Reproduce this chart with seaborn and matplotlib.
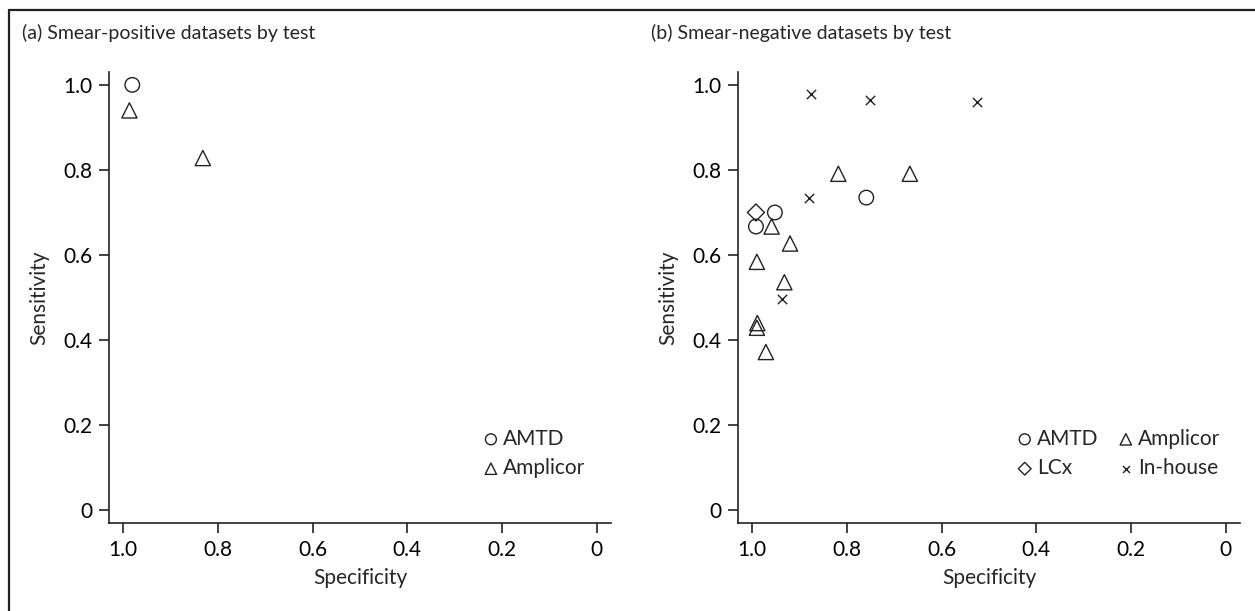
import matplotlib
matplotlib.use("Agg")
import matplotlib.pyplot as plt
import seaborn as sns
import pandas as pd
from matplotlib.lines import Line2D

# ---- data ----
pos_test = ["AMTD", "Amplicor", "Amplicor"]
pos_spec = [0.981, 0.987, 0.832]
pos_sens = [1.000, 0.940, 0.828]

neg_test = ["AMTD", "AMTD", "AMTD",
            "Amplicor", "Amplicor", "Amplicor", "Amplicor", "Amplicor",
            "Amplicor", "Amplicor", "Amplicor", "Amplicor",
            "LCx",
            "In-house", "In-house", "In-house", "In-house", "In-house"]
neg_spec = [0.952, 0.992, 0.759,
            0.959, 0.920, 0.990, 0.932, 0.989, 0.990, 0.971, 0.818, 0.667,
            0.992,
            0.938, 0.881, 0.876, 0.752, 0.525]
neg_sens = [0.700, 0.667, 0.735,
            0.667, 0.627, 0.584, 0.536, 0.440, 0.429, 0.372, 0.791, 0.791,
            0.700,
            0.496, 0.733, 0.978, 0.964, 0.959]

ticks = [1.0, 0.8, 0.6, 0.4, 0.2, 0.0]
tick_labels = ["1.0", "0.8", "0.6", "0.4", "0.2", "0"]
markers = {"AMTD": "o", "Amplicor": "^", "LCx": "D", "In-house": "x"}
msizes = {"AMTD": 110, "Amplicor": 120, "LCx": 75, "In-house": 45}

sns.set_style("white")
plt.rcParams["font.family"] = ["Lato", "DejaVu Sans"]
INK = "#222222"

fig = plt.figure(figsize=(12.55, 6.11), dpi=100)
ax1 = fig.add_axes([0.0869, 0.144, 0.400, 0.738])
ax2 = fig.add_axes([0.588, 0.144, 0.400, 0.738])

df_pos = pd.DataFrame({"test": pos_test, "spec": pos_spec, "sens": pos_sens})
df_neg = pd.DataFrame({"test": neg_test, "spec": neg_spec, "sens": neg_sens})


def draw(ax, df, order):
    for t in order:
        sub = df[df.test == t]
        m = markers[t]
        if m == "x":
            sns.scatterplot(data=sub, x="spec", y="sens", ax=ax, marker=m,
                            color=INK, s=msizes[t], linewidth=1.0, label=t)
        else:
            sns.scatterplot(data=sub, x="spec", y="sens", ax=ax, marker=m,
                            facecolors="none", edgecolor=INK, s=msizes[t],
                            linewidth=1.0, label=t)


draw(ax1, df_pos, ["AMTD", "Amplicor"])
draw(ax2, df_neg, ["AMTD", "LCx", "Amplicor", "In-house"])

for ax in (ax1, ax2):
    ax.set_xlim(1.03, -0.03)
    ax.set_ylim(-0.03, 1.03)
    ax.set_xticks(ticks)
    ax.set_xticklabels(tick_labels)
    ax.set_yticks(ticks)
    ax.set_yticklabels(tick_labels)
    for s in ["top", "right"]:
        ax.spines[s].set_visible(False)
    for s in ["left", "bottom"]:
        ax.spines[s].set_color(INK)
        ax.spines[s].set_linewidth(1.2)
    ax.tick_params(axis="both", direction="out", length=7, width=1.2,
                   color=INK, labelsize=15, labelcolor="black", pad=5,
                   left=True, bottom=True)
    ax.set_xlabel("Specificity", fontsize=15, labelpad=6)
    ax.set_ylabel("Sensitivity", fontsize=15, labelpad=10)

leg1 = ax1.legend(loc="lower right", bbox_to_anchor=(0.966, 0.081), frameon=False,
                  fontsize=15, handletextpad=0.1, labelspacing=0.45,
                  markerscale=0.75, handlelength=1.0, borderaxespad=0)
leg2 = ax2.legend(loc="lower right", bbox_to_anchor=(0.978, 0.081), frameon=False,
                  fontsize=15, handletextpad=0.1, labelspacing=0.45, ncol=2,
                  columnspacing=0.8, markerscale=0.75, handlelength=1.0,
                  borderaxespad=0)

fig.text(22 / 1255, 1 - 33 / 611, "(a) Smear-positive datasets by test",
         fontsize=14, va="center", ha="left")
fig.text(651 / 1255, 1 - 33 / 611, "(b) Smear-negative datasets by test",
         fontsize=14, va="center", ha="left")

# outer frame (top and left visible)
fig.add_artist(Line2D([9 / 1255, 1.0], [1 - 10 / 611, 1 - 10 / 611],
                      color=INK, linewidth=1.6, transform=fig.transFigure))
fig.add_artist(Line2D([9 / 1255, 9 / 1255], [0.0, 1 - 10 / 611],
                      color=INK, linewidth=1.6, transform=fig.transFigure))

fig.savefig("out.png", dpi=100, facecolor="white")
